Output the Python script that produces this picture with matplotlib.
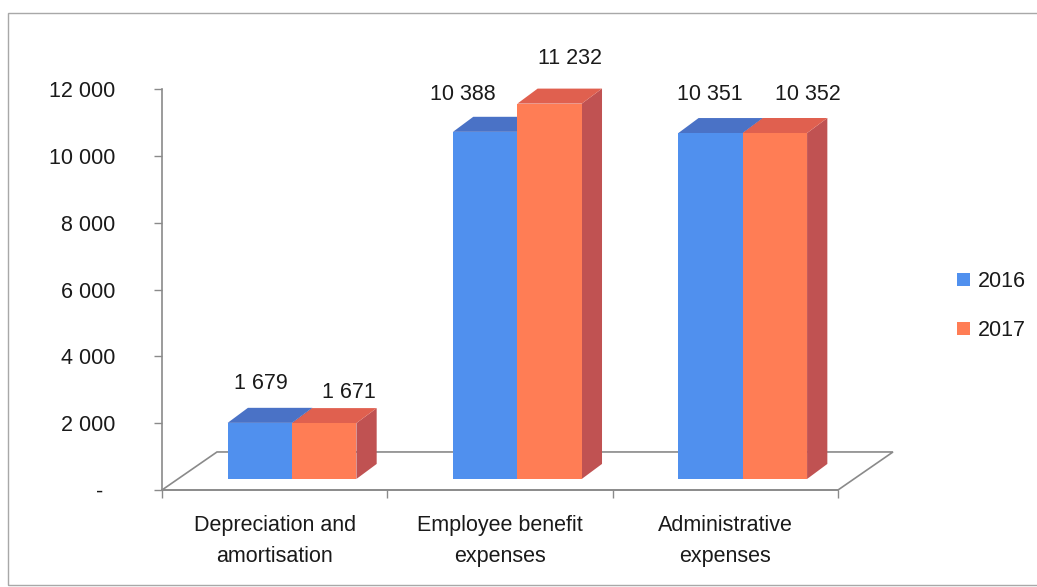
import matplotlib
matplotlib.use("Agg")
import matplotlib.pyplot as plt
from matplotlib.patches import Polygon, Patch, Rectangle
from matplotlib.transforms import ScaledTranslation, blended_transform_factory

plt.rcParams["font.family"] = ["Liberation Sans", "DejaVu Sans"]

categories = ["Depreciation and\namortisation", "Employee benefit\nexpenses", "Administrative\nexpenses"]
series_names = ["2016", "2017"]
values_2016 = [1679, 10388, 10351]
values_2017 = [1671, 11232, 10352]
y_ticks = [0, 2000, 4000, 6000, 8000, 10000, 12000]

# label nudges (pixels) from the top-front centre of each bar
label_nudge_2016 = [(1, 39), (-22, 37), (-1, 39)]
label_nudge_2017 = [(25, 31), (20, 45), (33, 39)]

W, H, DPI = 1037, 587, 100
FONT = 15.5
TEXT = "#1a1a1a"
GRID = "#8a8a8a"

# 3d geometry in data units
FLOOR_DX, FLOOR_DY = 0.244, 1138     # depth of the floor
FRONT_DX, FRONT_DY = 0.077, 330      # where bar fronts sit on the floor
BAR_DX, BAR_DY = 0.09, 450           # depth of each bar
BAR_W = 1 / 3.5                      # gap width 150%

colors = {
    "2016": {"front": "#5090ee", "top": "#4a72c6", "side": "#3c5fa8"},
    "2017": {"front": "#ff7d55", "top": "#e0604f", "side": "#c05252"},
}

fig = plt.figure(figsize=(W / DPI, H / DPI), dpi=DPI)
ax = fig.add_axes([162 / W, (H - 490) / H, 676 / W, 401 / H])
ax.set_xlim(0, 3)
ax.set_ylim(0, 12000)

for s in ["top", "right"]:
    ax.spines[s].set_visible(False)
ax.spines["left"].set_color(GRID)
ax.spines["bottom"].set_color(GRID)
ax.spines["left"].set_linewidth(1.2)
ax.spines["bottom"].set_linewidth(1.2)

# floor
floor = Polygon([(0, 0), (3, 0), (3 + FLOOR_DX, FLOOR_DY), (FLOOR_DX, FLOOR_DY)],
                closed=True, facecolor="white", edgecolor=GRID, lw=1.2,
                clip_on=False, zorder=1)
ax.add_patch(floor)


def draw_bar(x0, v, c):
    x1 = x0 + BAR_W
    y0 = FRONT_DY
    y1 = FRONT_DY + v
    side = Polygon([(x1, y0), (x1 + BAR_DX, y0 + BAR_DY), (x1 + BAR_DX, y1 + BAR_DY), (x1, y1)],
                   closed=True, facecolor=c["side"], edgecolor="none", clip_on=False, zorder=3)
    top = Polygon([(x0, y1), (x1, y1), (x1 + BAR_DX, y1 + BAR_DY), (x0 + BAR_DX, y1 + BAR_DY)],
                  closed=True, facecolor=c["top"], edgecolor="none", clip_on=False, zorder=3)
    front = Rectangle((x0, y0), BAR_W, v, facecolor=c["front"], edgecolor="none",
                      clip_on=False, zorder=3)
    for p in (side, top, front):
        ax.add_patch(p)
    return (x0 + x1) / 2, y1


for i in range(len(categories)):
    base = i + 0.5 - BAR_W + FRONT_DX
    for j, (name, vals, nudges) in enumerate([
        ("2016", values_2016, label_nudge_2016),
        ("2017", values_2017, label_nudge_2017),
    ]):
        cx, cy = draw_bar(base + j * BAR_W, vals[i], colors[name])
        ax.annotate(f"{vals[i]:,}".replace(",", " "), (cx, cy),
                    xytext=nudges[i], textcoords="offset pixels",
                    ha="center", va="center", fontsize=FONT, color=TEXT,
                    annotation_clip=False, zorder=5)

# axes ticks
ax.set_yticks(y_ticks)
ax.set_yticklabels(["-" if t == 0 else f"{t:,}".replace(",", " ") for t in y_ticks])
ax.tick_params(axis="y", direction="out", length=8 * 72 / DPI, width=1, color=GRID,
               pad=39 * 72 / DPI, labelsize=FONT, labelcolor=TEXT)
zero_lbl = ax.get_yticklabels()[0]
zero_lbl.set_transform(zero_lbl.get_transform() + ScaledTranslation(-12 / DPI, 0, fig.dpi_scale_trans))

ax.set_xticks([0, 1, 2, 3])
ax.set_xticklabels([])
ax.tick_params(axis="x", direction="out", length=8 * 72 / DPI, width=1, color=GRID)

trans = blended_transform_factory(ax.transData, fig.transFigure)
for i, cat in enumerate(categories):
    ax.text(i + 0.5, (H - 515) / H, cat, transform=trans, ha="center", va="top",
            fontsize=FONT, color=TEXT, linespacing=1.62, multialignment="center")

handles = [Patch(facecolor=colors[n]["front"], edgecolor="none") for n in series_names]
fig.legend(handles, series_names, loc="center left",
           bbox_to_anchor=(957 / W, 1 - 306 / H), frameon=False,
           fontsize=FONT, handlelength=0.6, handleheight=0.6,
           handletextpad=0.35, labelspacing=1.3, borderpad=0, borderaxespad=0,
           labelcolor=TEXT)

# outer chart border
fig.add_artist(Rectangle((8 / W, 2 / H), 1.2, 572 / H, transform=fig.transFigure,
                         fill=False, edgecolor="#a8a8a8", lw=1))

fig.savefig("out.png", dpi=DPI)
